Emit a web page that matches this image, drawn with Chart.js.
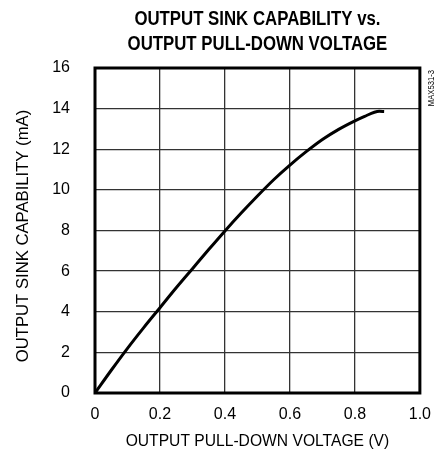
<!DOCTYPE html>
<html>
<head>
<meta charset="utf-8">
<script src="https://cdn.jsdelivr.net/npm/chart.js@4/dist/chart.umd.min.js"></script>
<style>
  html, body { margin: 0; padding: 0; background: #fff; }
  #wrap { width: 443px; height: 456px; }
</style>
</head>
<body>
<div id="wrap"><canvas id="myChart" width="443" height="456"></canvas></div>
<script>
"use strict"

const titleLines = ["OUTPUT SINK CAPABILITY vs.", "OUTPUT PULL-DOWN VOLTAGE"];
const xTitle = "OUTPUT PULL-DOWN VOLTAGE (V)";
const yTitle = "OUTPUT SINK CAPABILITY (mA)";
const figureCode = "MAX531-3";

// curve
const voltage = [0, 0.05, 0.1, 0.15, 0.2, 0.25, 0.3, 0.35, 0.4, 0.45, 0.5, 0.55, 0.6, 0.65, 0.7, 0.75, 0.8, 0.83, 0.86, 0.875, 0.89];
const sinkCurrent = [0, 1.12, 2.2, 3.22, 4.2, 5.18, 6.12, 7.06, 7.98, 8.86, 9.7, 10.5, 11.22, 11.88, 12.48, 12.98, 13.4, 13.62, 13.82, 13.87, 13.86];

const xTicks = [0, 0.2, 0.4, 0.6, 0.8, 1.0];
const yTicks = [0, 2, 4, 6, 8, 10, 12, 14, 16];

const fontName = "'Liberation Sans', Arial, sans-serif";

// draws text squeezed horizontally, to look like a narrow face
function narrowText(ctx, text, x, y, squeeze, angle){
    ctx.save();
    ctx.translate(x, y);
    if (angle) ctx.rotate(angle);
    ctx.scale(squeeze, 1);
    ctx.fillText(text, 0, 0);
    ctx.restore();
}

const framePlugin = {
    id: "frame",
    afterDraw(chart) {
        const ctx = chart.ctx;
        const a = chart.chartArea;
        const cx = (a.left + a.right) / 2;
        ctx.save();
        ctx.strokeStyle = "#000";
        ctx.lineWidth = 3;
        ctx.strokeRect(a.left, a.top, a.right - a.left, a.bottom - a.top);

        ctx.fillStyle = "#000";
        ctx.textAlign = "center";
        ctx.textBaseline = "middle";

        ctx.font = "bold 20px " + fontName;
        narrowText(ctx, titleLines[0], cx, 19, 0.84);
        narrowText(ctx, titleLines[1], cx, 44, 0.84);

        ctx.font = "17px " + fontName;
        narrowText(ctx, xTitle, cx, 441, 0.92);
        narrowText(ctx, yTitle, 23, 236, 0.98, -Math.PI / 2);

        // small figure code on the right
        ctx.font = "9px " + fontName;
        ctx.textAlign = "right";
        narrowText(ctx, figureCode, 432, a.top + 2, 0.85, -Math.PI / 2);
        ctx.restore();
    }
};

function init(){
    const ctx = document.getElementById("myChart").getContext("2d");
    const points = voltage.map((v, i) => ({x: v, y: sinkCurrent[i]}));
    new Chart(ctx, {
        type: "scatter",
        data: {
            datasets: [{
                data: points,
                showLine: true,
                borderColor: "#000",
                borderWidth: 3,
                pointRadius: 0,
                cubicInterpolationMode: "monotone",
                fill: false
            }]
        },
        options: {
            responsive: false,
            animation: false,
            layout: { padding: { top: 68, right: 21, left: 0, bottom: 0 } },
            plugins: {
                legend: { display: false },
                tooltip: { enabled: false },
                title: { display: false }
            },
            scales: {
                x: {
                    type: "linear",
                    min: 0,
                    max: 1,
                    afterBuildTicks: axis => { axis.ticks = xTicks.map(v => ({value: v})); },
                    afterFit: axis => { axis.height = 63; },
                    ticks: {
                        color: "#000",
                        font: { family: fontName, size: 16 },
                        padding: 12,
                        maxRotation: 0,
                        callback: v => (v === 0 ? "0" : v.toFixed(1))
                    },
                    grid: { color: "#333", lineWidth: 1.3, drawTicks: false },
                    border: { display: false },
                    title: { display: false }
                },
                y: {
                    min: 0,
                    max: 16,
                    afterBuildTicks: axis => { axis.ticks = yTicks.map(v => ({value: v})); },
                    afterFit: axis => { axis.width = 95; },
                    ticks: {
                        color: "#000",
                        font: { family: fontName, size: 16 },
                        padding: 25
                    },
                    grid: { color: "#333", lineWidth: 1.3, drawTicks: false },
                    border: { display: false },
                    title: { display: false }
                }
            }
        },
        plugins: [framePlugin]
    });
}

document.addEventListener("DOMContentLoaded", init);
</script>
</body>
</html>
